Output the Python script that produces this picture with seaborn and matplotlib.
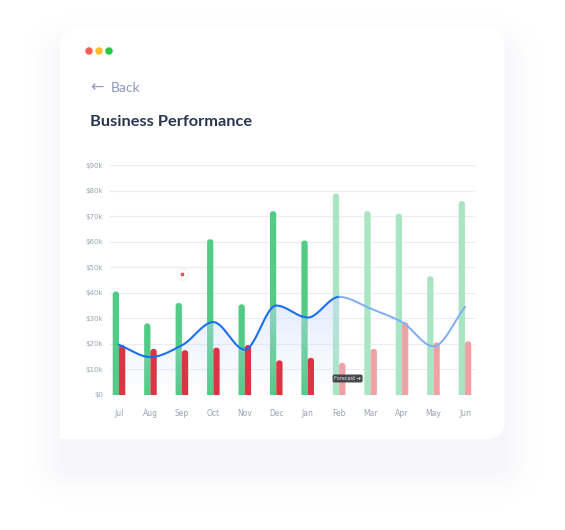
import numpy as np
import pandas as pd
import matplotlib
matplotlib.use("Agg")
import matplotlib.pyplot as plt
import seaborn as sns
from matplotlib.patches import FancyBboxPatch, Ellipse, Rectangle

# values in $k
months = ['Jul', 'Aug', 'Sep', 'Oct', 'Nov', 'Dec', 'Jan', 'Feb', 'Mar', 'Apr', 'May', 'Jun']
income = [40.5, 28, 36, 61, 35.5, 72, 60.5, 79, 72, 71, 46.5, 76]
expenses = [19.5, 18, 17.5, 18.5, 19.5, 13.5, 14.5, 12.5, 18, 28.5, 20.5, 21]
profit = [19.6, 14.8, 19.4, 28.5, 17.7, 35, 30.3, 38.4, 33.8, 28.5, 19, 34.4]
first_forecast = 7        # Feb: bars turn into forecast
last_actual_point = 7     # line is actual up to Feb
y_ticks = [0, 10, 20, 30, 40, 50, 60, 70, 80, 90]
y_labels = ['$0', '$10k', '$20k', '$30k', '$40k', '$50k', '$60k', '$70k', '$80k', '$90k']

GREEN, GREEN_F = '#52cb87', '#a9e5c3'
RED, RED_F = '#dc3445', '#f0a1a5'
BLUE, BLUE_F = '#1a6ef2', '#7fadf6'


def pchip(x, y, xs):
    x = np.asarray(x, float); y = np.asarray(y, float)
    h = np.diff(x); d = np.diff(y) / h
    m = np.zeros_like(y)
    for k in range(1, len(y) - 1):
        if d[k - 1] * d[k] > 0:
            w1 = 2 * h[k] + h[k - 1]; w2 = h[k] + 2 * h[k - 1]
            m[k] = (w1 + w2) / (w1 / d[k - 1] + w2 / d[k])
    m[0] = d[0]; m[-1] = d[-1]
    idx = np.clip(np.searchsorted(x, xs) - 1, 0, len(x) - 2)
    t = (xs - x[idx]) / h[idx]
    h00 = 2 * t**3 - 3 * t**2 + 1; h10 = t**3 - 2 * t**2 + t
    h01 = -2 * t**3 + 3 * t**2; h11 = t**3 - t**2
    return h00 * y[idx] + h10 * h[idx] * m[idx] + h01 * y[idx + 1] + h11 * h[idx] * m[idx + 1]


W, H = 565, 530
fig = plt.figure(figsize=(W / 100, H / 100), dpi=100, facecolor='white')

# soft shadow behind the card, as a smooth image
cx, cy, cw, ch = 60, 29, 444.5, 410
bg = fig.add_axes([0, 0, 1, 1], zorder=-3)
bg.set_axis_off()
yy, xx = np.mgrid[0:H, 0:W] + 0.5
sx0, sx1, sy0, sy1 = cx + 8, cx + cw - 8, cy + 30, cy + ch + 22
dx = np.maximum(np.maximum(sx0 - xx, xx - sx1), 0)
dy = np.maximum(np.maximum(sy0 - yy, yy - sy1), 0)
dist = np.hypot(dx, dy)
shade = np.zeros((H, W, 4))
shade[..., 0] = 0.55; shade[..., 1] = 0.55; shade[..., 2] = 0.75
shade[..., 3] = 0.075 * np.exp(-(dist / 26.0) ** 2)
bg.imshow(shade, extent=[0, W, H, 0], interpolation='bilinear')
bg.set_xlim(0, W)
bg.set_ylim(H, 0)

asp = W / H
card = FancyBboxPatch((cx / W, 1 - (cy + ch) / H), cw / W, ch / H,
                      boxstyle=f"round,pad=0,rounding_size={18 / W}", mutation_aspect=asp,
                      transform=fig.transFigure, facecolor='white', edgecolor='none', zorder=-2)
fig.add_artist(card)
fig.add_artist(Rectangle((cx / W, 1 - (cy + ch) / H), 30 / W, 30 / H, transform=fig.transFigure,
                         facecolor='white', edgecolor='none', zorder=-2))

for px, col in zip([89, 99, 109], ['#ff5f57', '#febc2e', '#28c840']):
    fig.add_artist(Ellipse((px / W, 1 - 51 / H), 7.5 / W, 7.5 / H, transform=fig.transFigure,
                           facecolor=col, edgecolor='none'))

fig.text(90 / W, 1 - 87.5 / H, '\u2190', fontsize=11.5, color='#8f98bd', va='center', ha='left')
fig.text(111 / W, 1 - 88 / H, 'Back', fontsize=10, color='#8f98bd', va='center', ha='left', family='Lato')
fig.text(90 / W, 1 - 122 / H, 'Business Performance', fontsize=11.8, color='#2a3650', va='center',
         ha='left', family='Lato', fontweight='bold')

# plot area
ax = fig.add_axes([110 / W, 1 - 394.8 / H, 365 / W, 229.5 / H])
ax.set_facecolor('none')
ax.set_zorder(2)

df = pd.DataFrame({'month': months * 2,
                   'value': income + expenses,
                   'series': ['Income'] * 12 + ['Expenses'] * 12})
sns.barplot(data=df, x='month', y='value', hue='series', palette=[GREEN, RED], width=0.4,
            dodge=True, legend=False, ax=ax, zorder=3)

xlim = (-0.286, 11.32)
ylim = (0, 90)
ax.set_xlim(*xlim)
ax.set_ylim(*ylim)
aspect = (90 / 229.5) / (1 / 31.45)

bars = list(ax.patches)
for j, p in enumerate(bars):
    i = j % 12
    s = j // 12
    if s == 0:
        col = GREEN_F if i >= first_forecast else GREEN
    else:
        col = RED_F if i >= first_forecast else RED
    x0, w, h = p.get_x(), p.get_width(), p.get_height()
    r = w * 0.45
    # income bars sit under the gradient, expense bars above it
    rb = FancyBboxPatch((x0, -5), w, h + 5, boxstyle=f"round,pad=0,rounding_size={r}",
                        mutation_aspect=aspect, facecolor=col, edgecolor='none', zorder=3 if s == 0 else 4.5)
    p.remove()
    ax.add_patch(rb)

# smooth profit line
xs = np.linspace(0, 11, 600)
ys = pchip(np.arange(12), profit, xs)
act = xs <= last_actual_point
sns.lineplot(x=xs[act], y=ys[act], color=BLUE, lw=1.5, ax=ax, zorder=5)
sns.lineplot(x=xs[~act], y=ys[~act], color=BLUE_F, lw=1.4, ax=ax, zorder=5)

# gradient fill under actual part
poly = ax.fill_between(xs[act], ys[act], 0, color='none', zorder=4)
grad = np.ones((256, 1, 4))
grad[:, 0, 0] = 0.80; grad[:, 0, 1] = 0.87; grad[:, 0, 2] = 0.99
grad[:, 0, 3] = np.linspace(0.55, 0.0, 256)
im = ax.imshow(grad, aspect='auto', extent=[0, last_actual_point, 0, max(profit[:8])],
               origin='upper', zorder=4)
im.set_clip_path(poly.get_paths()[0], transform=ax.transData)
ax.set_xlim(*xlim)
ax.set_ylim(*ylim)

# forecast tag and hover marker
ax.text(6.84, 6.4, 'Forecast \u2794', fontsize=3.6, color='#e8e8ea', va='center', ha='left', zorder=6,
        bbox=dict(boxstyle='round,pad=0.3,rounding_size=0.35', facecolor='#3a3b3f', alpha=0.92,
                  edgecolor='none'))
ax.scatter([2], [47.3], s=70, color='white', edgecolors='#eceef3', linewidths=0.6, zorder=6)
ax.scatter([2], [47.3], s=3, marker='s', color='#ee4b55', zorder=7)

ax.set_yticks(y_ticks)
ax.set_yticklabels(y_labels)
ax.yaxis.grid(True, color='#e7ecf5', lw=0.8)
ax.set_axisbelow(True)
ax.tick_params(axis='y', length=0, pad=5, labelsize=5, labelcolor='#99a2b6')
ax.tick_params(axis='x', length=0, pad=10.5, labelsize=5.5, labelcolor='#99a2b6')
ax.set_xlabel('')
ax.set_ylabel('')
sns.despine(ax=ax, left=True, bottom=True)

plt.savefig('out.png', dpi=100, facecolor='white')
